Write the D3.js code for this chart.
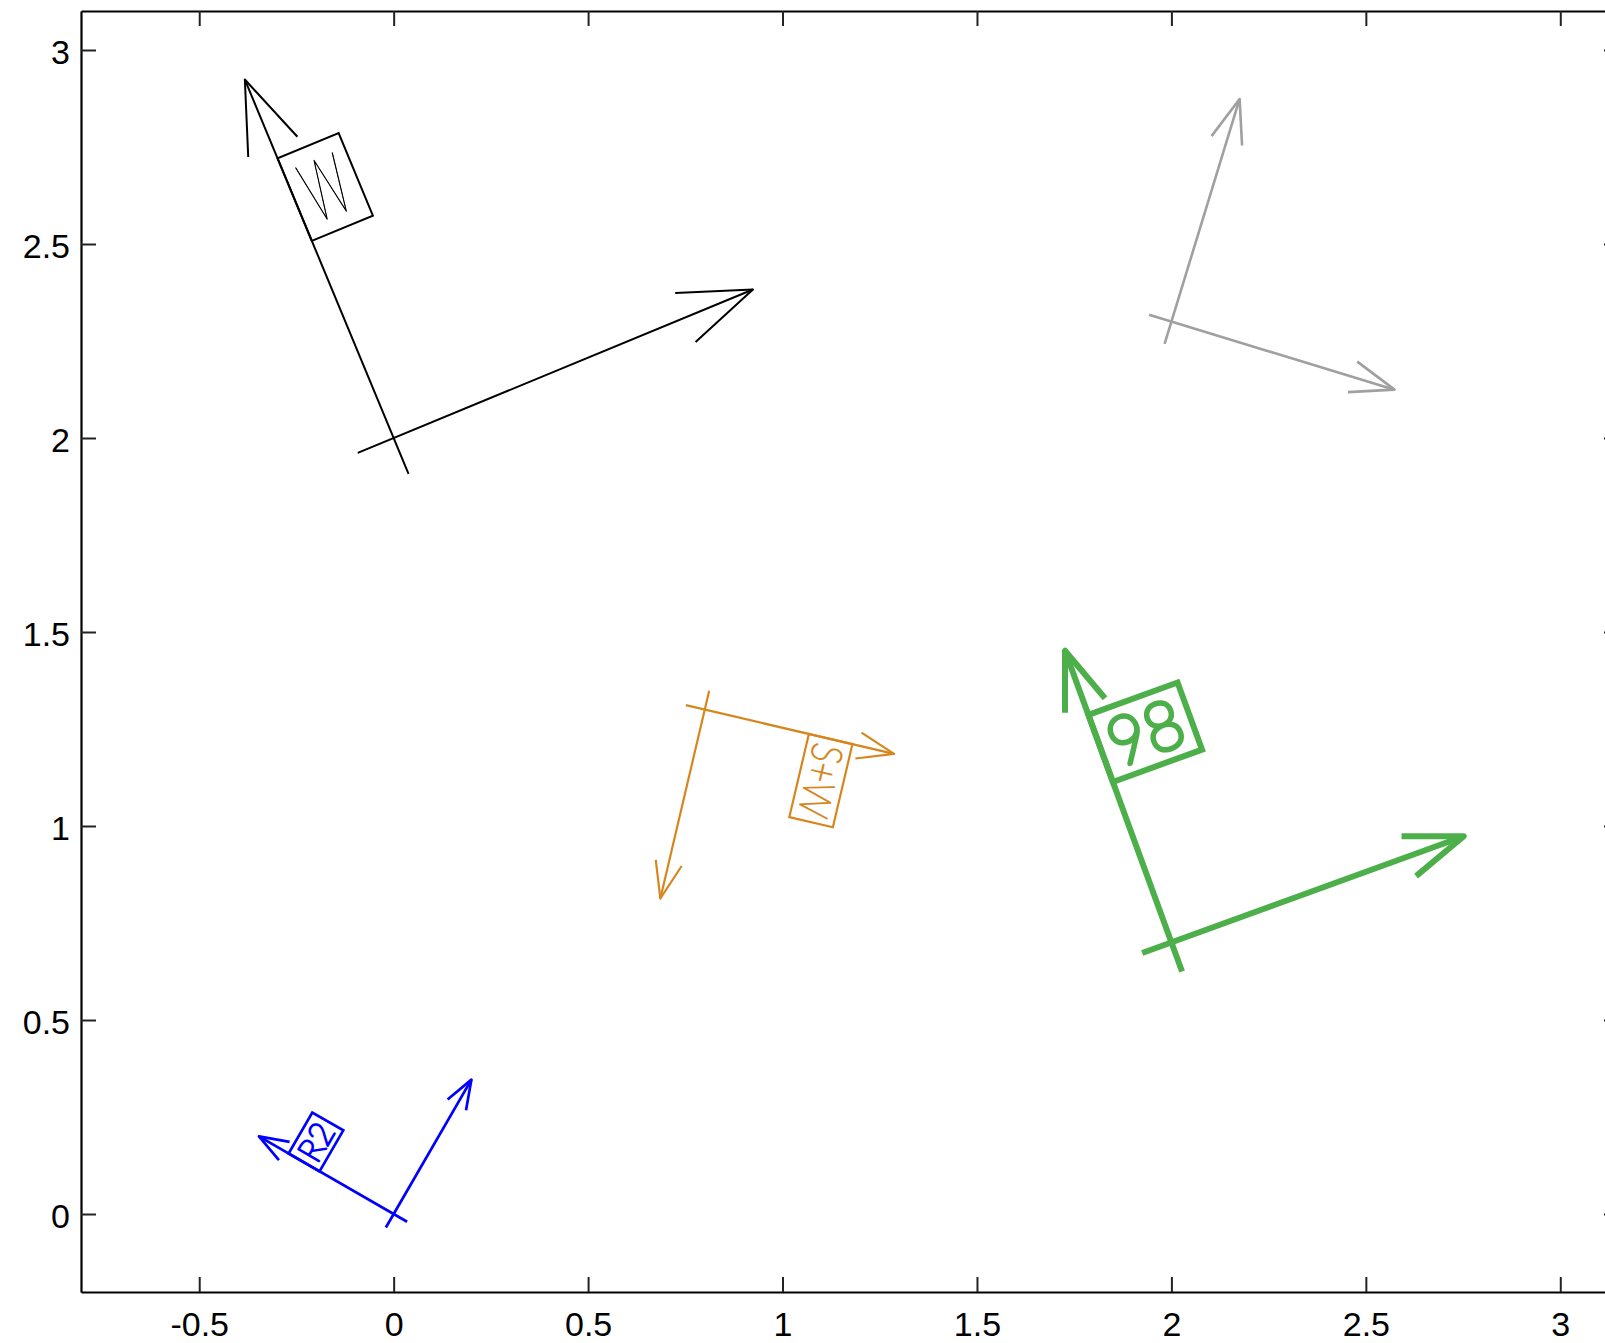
<!DOCTYPE html>
<html>
<head>
<meta charset="utf-8">
<script src="https://cdn.jsdelivr.net/npm/d3@7"></script>
<style>
  html, body { margin: 0; padding: 0; background: #fff; }
  svg { display: block; }
  .tick text { font-family: "Liberation Sans", Arial, Helvetica, sans-serif; font-size: 34px; fill: #000; }
</style>
</head>
<body>
<svg id="chart" width="1605" height="1343"></svg>
<script>
// Axis extents and tick labels
const xDomain = [-0.804, 3.151];
const yDomain = [-0.201, 3.1005];
const xTickValues = [-0.5, 0, 0.5, 1, 1.5, 2, 2.5, 3];
const xTickLabels = ["-0.5", "0", "0.5", "1", "1.5", "2", "2.5", "3"];
const yTickValues = [0, 0.5, 1, 1.5, 2, 2.5, 3];
const yTickLabels = ["0", "0.5", "1", "1.5", "2", "2.5", "3"];

// Coordinate frames: label, origin, rotation (degrees), axis length
const frameLabels = ["W", "R2", "S+W", "98", ""];
const frameX = [0, 0, 0.8, 2, 2];
const frameY = [2, 0, 1.3, 0.7, 2.3];
const frameAngle = [22.5, 60, -103.2, 20, -17];
const frameScale = [1, 0.4, 0.5, 0.8, 0.6];

// Drawing styles for each frame
const frameColor = ["#000000", "#0000ff", "#d6861e", "#4daf4a", "#a0a0a0"];
const frameWidth = [2, 2.7, 2.2, 6, 2.6];

const W = 1605, H = 1343;
const plot = { left: 81, right: 1619, top: 11, bottom: 1292 };

const svg = d3.select("#chart");
svg.append("rect").attr("width", W).attr("height", H).attr("fill", "#fff");

const x = d3.scaleLinear().domain(xDomain).range([plot.left, plot.right]);
const y = d3.scaleLinear().domain(yDomain).range([plot.bottom, plot.top]);

// Frame glyph geometry, in units of the frame's axis length
const TAIL = 0.1;
const HEAD_LEN = 0.2;
const HEAD_ANG = 20 * Math.PI / 180;
const FLAG_V0 = 0.55, FLAG_V1 = 0.78;
const FLAG_PAD = 0.035, FLAG_CHAR = 0.135;
const CAP = 0.156;       // glyph cap height
const FONT_EM = 0.218;   // font size

const line = d3.line();

frameLabels.forEach((label, i) => {
  const ox = frameX[i], oy = frameY[i], L = frameScale[i];
  const th = frameAngle[i] * Math.PI / 180;
  const c = Math.cos(th), s = Math.sin(th);
  // frame-local (a along x-axis, b along y-axis) -> screen
  const P = (a, b) => [x(ox + L * (a * c - b * s)), y(oy + L * (a * s + b * c))];
  const col = frameColor[i], lw = frameWidth[i];
  const g = svg.append("g")
    .attr("fill", "none")
    .attr("stroke", col)
    .attr("stroke-width", lw);

  const hc = HEAD_LEN * Math.cos(HEAD_ANG), hs = HEAD_LEN * Math.sin(HEAD_ANG);

  // x-axis shaft and head
  g.append("path").attr("d", line([P(-TAIL, 0), P(1, 0)]));
  g.append("path").attr("stroke-linejoin", "round")
    .attr("d", line([P(1 - hc, hs), P(1, 0), P(1 - hc, -hs)]));
  // y-axis shaft and head
  g.append("path").attr("d", line([P(0, -TAIL), P(0, 1)]));
  g.append("path").attr("stroke-linejoin", "round")
    .attr("d", line([P(hs, 1 - hc), P(0, 1), P(-hs, 1 - hc)]));

  if (!label) return;

  // flag box on the y-axis
  const n = label.length;
  const w = FLAG_PAD + FLAG_CHAR * n;
  g.append("path").attr("stroke-linejoin", "miter")
    .attr("d", line([P(0, FLAG_V0), P(w, FLAG_V0), P(w, FLAG_V1), P(0, FLAG_V1)]) + "Z");

  // label text laid out in the frame's own axes (1 local unit = L/100)
  const kx = x(1) - x(0), ky = y(0) - y(1);
  const sx = kx * L / 100, sy = ky * L / 100;
  const [E, F] = [x(ox), y(oy)];
  const m = [sx * c, -sy * s, sx * s, sy * c, E, F];
  const fontPx = FONT_EM * L * ky;
  const target = lw * 0.9;
  const extra = Math.max(target - 0.008 * fontPx, 1.2);
  const vMid = (FLAG_V0 + FLAG_V1) / 2;
  svg.append("g")
    .attr("transform", `matrix(${m.join(",")})`)
    .append("text")
    .attr("x", (w / 2) * 100)
    .attr("y", -(vMid - CAP / 2) * 100)
    .attr("text-anchor", "middle")
    .attr("font-family", "Lato, Inter, sans-serif")
    .attr("font-weight", 100)
    .attr("font-size", FONT_EM * 100)
    .attr("textLength", (FLAG_CHAR * n - 0.025) * 100)
    .attr("lengthAdjust", "spacingAndGlyphs")
    .attr("fill", col)
    .attr("stroke", col)
    .attr("stroke-width", extra / sx)
    .attr("stroke-linejoin", "round")
    .text(label);
});

// Box axes with inward ticks
const TICK = 15;
const styleAxis = sel => {
  sel.select(".domain").attr("stroke", "#000").attr("stroke-width", 2.2);
  sel.selectAll(".tick line").attr("stroke", "#222").attr("stroke-width", 2);
};

svg.append("g")
  .attr("transform", `translate(0,${plot.bottom})`)
  .call(d3.axisBottom(x).tickValues(xTickValues)
    .tickFormat((d, i) => xTickLabels[i])
    .tickSizeInner(-TICK).tickSizeOuter(0).tickPadding(20))
  .call(styleAxis)
  .call(a => a.selectAll(".tick text").attr("font-family", null).attr("font-size", null));

svg.append("g")
  .attr("transform", `translate(0,${plot.top})`)
  .call(d3.axisTop(x).tickValues(xTickValues).tickFormat("")
    .tickSizeInner(-TICK).tickSizeOuter(0))
  .call(styleAxis);

svg.append("g")
  .attr("transform", `translate(${plot.left},0)`)
  .call(d3.axisLeft(y).tickValues(yTickValues)
    .tickFormat((d, i) => yTickLabels[i])
    .tickSizeInner(-TICK).tickSizeOuter(0).tickPadding(11))
  .call(styleAxis)
  .call(a => a.selectAll(".tick text").attr("dy", "0.4em")
    .attr("font-family", null).attr("font-size", null));

svg.append("g")
  .attr("transform", `translate(${plot.right},0)`)
  .call(d3.axisRight(y).tickValues(yTickValues).tickFormat("")
    .tickSizeInner(-TICK).tickSizeOuter(0))
  .call(styleAxis);
</script>
</body>
</html>
